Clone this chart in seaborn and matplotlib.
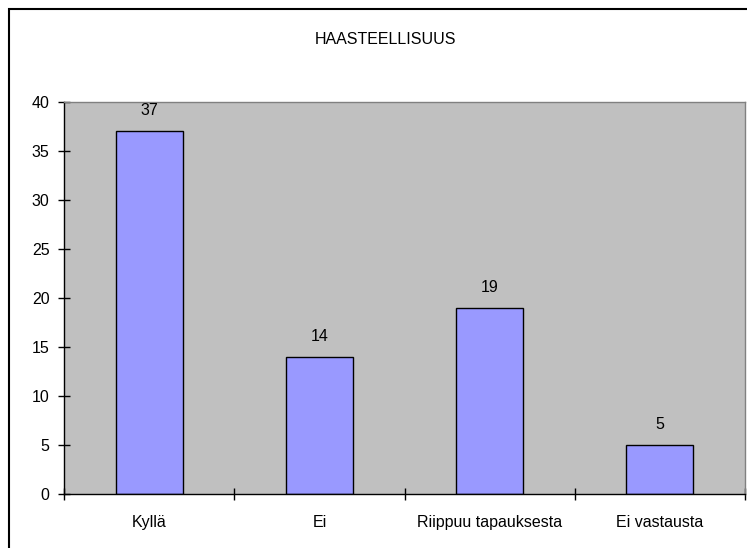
import matplotlib
matplotlib.use("Agg")
import matplotlib.pyplot as plt
import seaborn as sns
import pandas as pd
from matplotlib.patches import Rectangle

categories = ["Kyllä", "Ei", "Riippuu tapauksesta", "Ei vastausta"]
values = [37, 14, 19, 5]
yticks = [0, 5, 10, 15, 20, 25, 30, 35, 40]
title = "HAASTEELLISUUS"

sns.set_style("white")
plt.rcParams['font.family'] = ['Liberation Sans', 'DejaVu Sans']
plt.rcParams['text.color'] = 'black'
plt.rcParams['xtick.color'] = 'black'
plt.rcParams['ytick.color'] = 'black'
FS = 11.5

W, H = 747, 548
fig = plt.figure(figsize=(W / 100, H / 100), dpi=100)
fig.patch.set_facecolor("white")
# figure frame (only left and top visible as in reference)
fig.add_artist(Rectangle((9 / W, -0.1), 1.2, 1 - 9 / H + 0.1, transform=fig.transFigure,
                         fill=False, edgecolor="black", linewidth=1.5))

left, right, top, bottom = 64, 745, 102, 494
ax = fig.add_axes([left / W, 1 - bottom / H, (right - left) / W, (bottom - top) / H])
ax.set_facecolor("#C0C0C0")

df = pd.DataFrame({"cat": categories, "val": values})
sns.barplot(data=df, x="cat", y="val", ax=ax, color="#9999FF", saturation=1,
            width=0.395, edgecolor="black", linewidth=1.0)

for i, v in enumerate(values):
    ax.annotate(str(v), (i, v), xytext=(0, 9.5), textcoords="offset points",
                ha="center", va="bottom", fontsize=FS, color="black")

ax.set_xlim(-0.5, len(categories) - 0.5)
ax.set_ylim(0, 40)
ax.set_yticks(yticks)
ax.set_yticklabels([str(t) for t in yticks], fontsize=FS)
ax.set_xticks(range(len(categories)))
ax.set_xticklabels(categories, fontsize=FS)
ax.set_xticks([i - 0.5 for i in range(len(categories) + 1)], minor=True)
ax.tick_params(axis="x", which="major", bottom=True, length=0, pad=15)
ax.tick_params(axis="x", which="minor", bottom=True, length=9, direction="inout", width=1, color="black")
ax.tick_params(axis="y", which="major", left=True, length=9, direction="inout", width=1, color="black", pad=6)
ax.set_xlabel("")
ax.set_ylabel("")

for s in ["left", "bottom"]:
    ax.spines[s].set_color("black")
    ax.spines[s].set_linewidth(1.0)
    ax.spines[s].set_visible(True)
for s in ["top", "right"]:
    ax.spines[s].set_color("#808080")
    ax.spines[s].set_linewidth(1.0)
    ax.spines[s].set_visible(True)

fig.text(385 / W, 1 - 39 / H, title, ha="center", va="center", fontsize=FS)

fig.savefig("out.png", dpi=100)
